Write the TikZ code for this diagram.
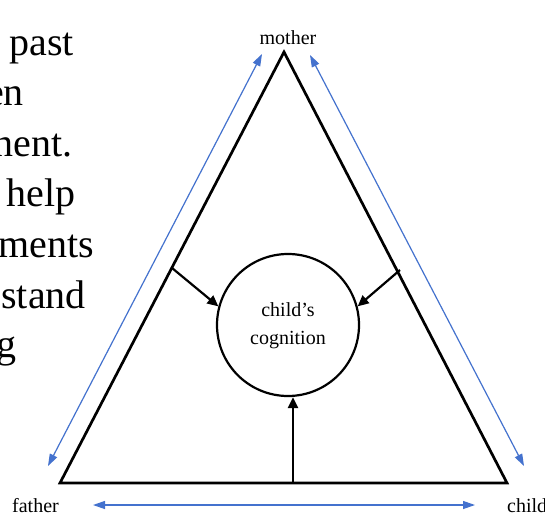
\documentclass[tikz,border=0pt]{standalone}
\usepackage{fontspec}
\setmainfont{Liberation Serif}
\usetikzlibrary{arrows.meta}
\definecolor{arrblue}{RGB}{68,114,206}
\tikzset{
  tri/.style={line width=2.7pt, line join=miter, black},
  blk/.style={line width=2.2pt, -{Triangle[length=11pt,width=10pt]}},
  blu/.style={line width=1.2pt, arrblue, {Triangle[length=12pt,width=8pt]}-{Triangle[length=12pt,width=8pt]}},
  lbl/.style={font=\fontsize{20}{22}\selectfont, inner sep=0pt},
  bodytxt/.style={font=\fontsize{40}{46}\selectfont, inner sep=0pt, anchor=base east}
}
\begin{document}
\begin{tikzpicture}[x=1pt,y=-1pt]
\useasboundingbox (0,0) rectangle (545,519);
\clip (0,0) rectangle (545,519);
\fill[white] (0,0) rectangle (545,519);
% left cut-off text
\node[bodytxt] (t1) at (74,56) {past};
\node[bodytxt] (t2) at (24,105) {en};
\node[bodytxt] (t3) at (73,156) {nent.};
\node[bodytxt] (t4) at (76,206) {help};
\node[bodytxt] (t5) at (94,257) {ments};
\node[bodytxt] (t6) at (86,308) {stand};
\node[bodytxt] (t7) at (17,357) {g};
% triangle
\coordinate (A) at (284,52);
\coordinate (F) at (60,483);
\coordinate (C) at (507,483);
\draw[tri] (A) -- (F) -- (C) -- cycle;
% circle
\node[circle, draw, line width=2.2pt, minimum size=142pt, inner sep=0pt,
      font=\fontsize{20}{28}\selectfont] (cog) at (288,325)
      {\raisebox{-3pt}{\begin{tabular}{@{}c@{}}child’s\\cognition\end{tabular}}};
% black arrows
\coordinate (lA) at (172,268);
\coordinate (rA) at (400,270);
\coordinate (bA) at (293,483);
\draw[blk] (lA) -- (cog.165);
\draw[blk] (rA) -- (cog.15);
\draw[blk] (bA) -- (bA |- cog.south);
% labels
\node[lbl, anchor=base] (mother) at (288,45) {mother};
\node[lbl, anchor=base west] (father) at (12,512) {father};
\node[lbl, anchor=base west] (child) at (507,512) {child};
% blue arrows
\coordinate (b1s) at (262,54);
\coordinate (b1e) at (48,466);
\coordinate (b2s) at (310,55);
\coordinate (b2e) at (524,466);
\coordinate (b3s) at (93,505);
\coordinate (b3e) at (475,505);
\draw[blu] (b1s) -- (b1e);
\draw[blu] (b2s) -- (b2e);
\draw[blu] (b3s) -- (b3e);
\end{tikzpicture}
\end{document}
